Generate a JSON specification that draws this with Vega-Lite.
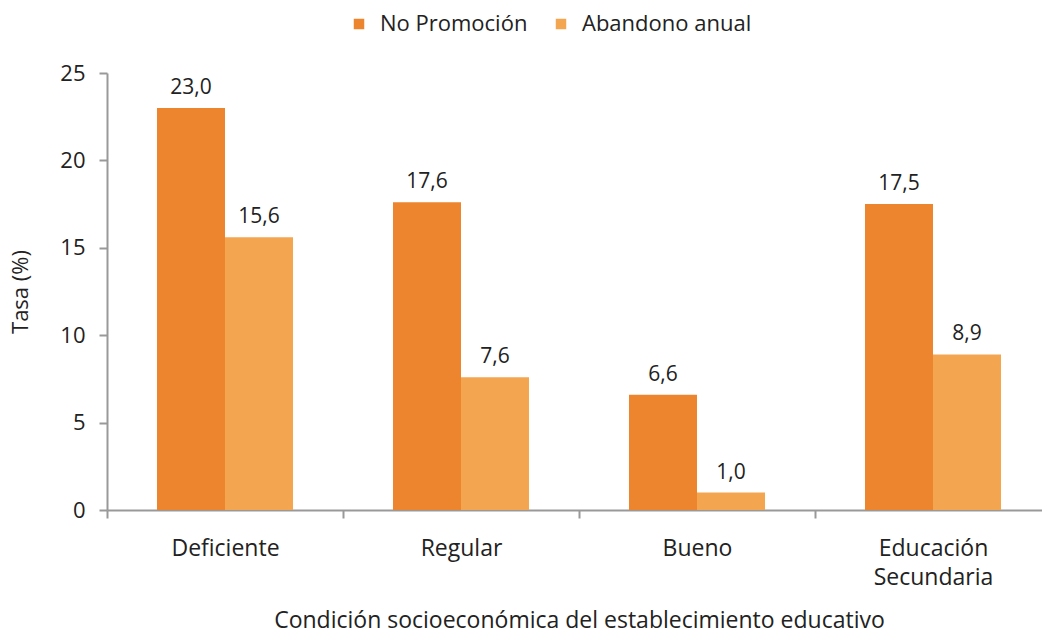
{
  "$schema": "https://vega.github.io/schema/vega-lite/v6.json",
  "autosize": {"type": "none"},
  "width": 944,
  "height": 437,
  "padding": {"left": 107, "top": 73, "right": 0, "bottom": 127},
  "background": "white",
  "config": {
    "font": "Open Sans",
    "view": {"stroke": null},
    "locale": {"number": {"decimal": ",", "thousands": ".", "grouping": [3], "currency": ["", " €"]}}
  },
  "data": {
    "values": [
      {"condicion": "Deficiente", "serie": "No Promoción", "tasa": 23.0},
      {"condicion": "Deficiente", "serie": "Abandono anual", "tasa": 15.6},
      {"condicion": "Regular", "serie": "No Promoción", "tasa": 17.6},
      {"condicion": "Regular", "serie": "Abandono anual", "tasa": 7.6},
      {"condicion": "Bueno", "serie": "No Promoción", "tasa": 6.6},
      {"condicion": "Bueno", "serie": "Abandono anual", "tasa": 1.0},
      {"condicion": "Educación Secundaria", "serie": "No Promoción", "tasa": 17.5},
      {"condicion": "Educación Secundaria", "serie": "Abandono anual", "tasa": 8.9}
    ]
  },
  "encoding": {
    "x": {
      "field": "condicion", "type": "nominal", "sort": null,
      "scale": {"paddingInner": 0, "paddingOuter": 0},
      "title": "Condición socioeconómica del establecimiento educativo",
      "axis": {
        "labelAngle": 0, "tickBand": "extent", "domainColor": "#999999", "tickColor": "#999999",
        "domainWidth": 2, "tickWidth": 2, "tickSize": 8, "labelPadding": 19,
        "labelFontSize": 23, "labelColor": "#222222", "labelLineHeight": 29,
        "labelExpr": "split(datum.label, ' ')",
        "titleFontSize": 23, "titleColor": "#222222", "titleFontWeight": "normal", "titlePadding": 20
      }
    },
    "xOffset": {"field": "serie", "type": "nominal", "sort": ["No Promoción", "Abandono anual"], "scale": {"paddingOuter": 0.735, "paddingInner": 0}},
    "y": {
      "field": "tasa", "type": "quantitative",
      "scale": {"domain": [0, 25]},
      "title": "Tasa (%)",
      "axis": {
        "values": [0, 5, 10, 15, 20, 25], "grid": false, "domainColor": "#999999", "tickColor": "#999999",
        "domainWidth": 2, "tickWidth": 2, "tickSize": 8, "labelPadding": 14,
        "labelFontSize": 22, "labelColor": "#222222",
        "titleFontSize": 22, "titleColor": "#222222", "titleFontWeight": "normal", "titlePadding": 27
      }
    }
  },
  "layer": [
    {
      "mark": {"type": "bar"},
      "encoding": {
        "color": {
          "field": "serie", "type": "nominal", "sort": ["No Promoción", "Abandono anual"],
          "scale": {"domain": ["No Promoción", "Abandono anual"], "range": ["#ED852E", "#F4A550"]},
          "legend": {
            "title": null, "orient": "none", "direction": "horizontal",
            "legendX": 241, "legendY": -60, "labelLimit": 400,
            "symbolType": "square", "symbolSize": 110, "symbolOpacity": 1,
            "labelFontSize": 22, "labelColor": "#222222", "columnPadding": 22, "labelOffset": 10
          }
        }
      }
    },
    {
      "mark": {"type": "text", "baseline": "bottom", "dy": -10, "fontSize": 21, "color": "#222222"},
      "encoding": {
        "text": {"field": "tasa", "type": "quantitative", "format": ".1f"}
      }
    }
  ]
}
